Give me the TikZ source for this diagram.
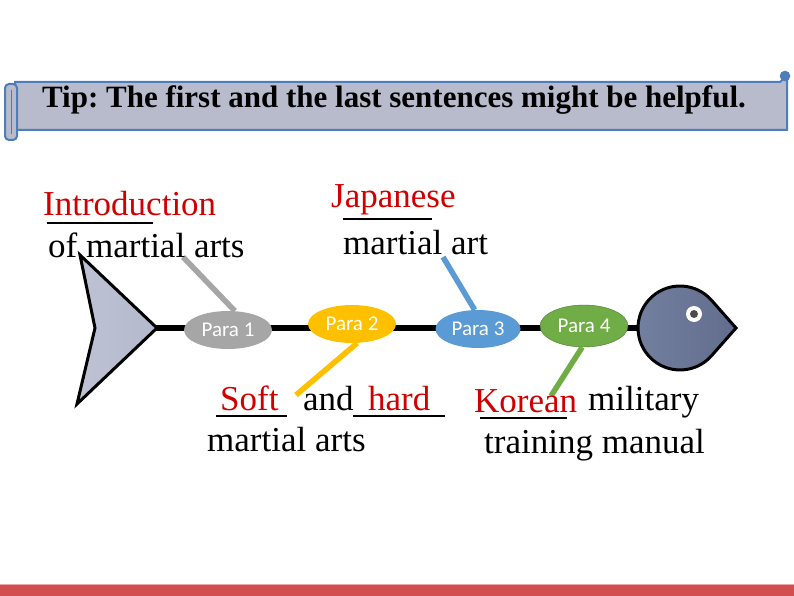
\documentclass[tikz,border=0pt]{standalone}
\usepackage{fontspec}
\setmainfont{Liberation Serif}
\newfontfamily\parafont{Carlito}
\usetikzlibrary{positioning,calc,shapes.geometric}
\frenchspacing

\definecolor{scrollfill}{HTML}{B7BBCB}
\definecolor{scrollline}{HTML}{4F7DBA}
\definecolor{redtext}{HTML}{D00000}
\definecolor{paragray}{HTML}{A6A6A6}
\definecolor{parayellow}{HTML}{FFC000}
\definecolor{parablue}{HTML}{5B9BD5}
\definecolor{paragreen}{HTML}{70AD47}
\definecolor{headleft}{HTML}{7480A0}
\definecolor{headright}{HTML}{626D8D}
\definecolor{tailfill}{HTML}{B3B8CC}
\definecolor{barred}{HTML}{D34F4F}

\tikzset{
  para/.style={ellipse, minimum width=88pt, minimum height=38pt, inner sep=0pt,
    text=white, font=\parafont\fontsize{21}{21}\selectfont},
  bone/.style={line width=5.5pt},
  word/.style={anchor=base west, inner sep=0pt, font=\fontsize{35}{40}\selectfont},
  gap/.style={line width=1.2pt}
}

\begin{document}
\begin{tikzpicture}[x=1pt,y=1pt]
  \useasboundingbox (0,0) rectangle (794,-596);

  % the scroll with the tip
  \draw[scrollline, line width=2pt, fill=scrollfill] (15,-82) -- (780,-82) -- (787,-76) -- (787,-130) -- (15,-130) -- cycle;
  \draw[scrollline, line width=2pt, fill=scrollfill, rounded corners=4pt] (5,-84) rectangle (17,-140);
  \draw[scrollline, line width=1pt] (11,-90) -- (11,-134);
  \draw[scrollline, line width=1.5pt, fill=scrollline] (785,-76) circle (4.5);
  \node[font=\bfseries\fontsize{31}{36}\selectfont, anchor=base, inner sep=0pt] (tip) at (394,-108)
    {Tip: The first and the last sentences might be helpful.};

  % spine, tail and head
  \draw[line width=6pt] (150,-328) -- (645,-328);
  \draw[line width=3pt, line join=miter, left color=tailfill!85, right color=tailfill, draw=black]
    (80,-255) -- (157,-328) -- (77,-404) -- (95,-328) -- cycle;
  \coordinate (hc) at (680,-328);
  \draw[line width=3pt, left color=headleft, right color=headright]
    (736,-328) -- ($(hc)+(41.4:42)$) arc[start angle=41.4, end angle=318.6, radius=42] -- cycle;
  \fill[white] (694,-314) circle (8);
  \fill[gray!60!black] (694,-314) circle (4);

  % bones
  \coordinate (b1) at (183,-257);
  \coordinate (b2) at (296,-395);
  \coordinate (b3) at (443,-257);
  \coordinate (b4) at (551,-396);
  \node[para, fill=paragray] (p1) at (228,-330) {Para 1};
  \node[para, fill=parayellow] (p2) at (352,-324) {Para 2};
  \node[para, fill=parablue, minimum width=85pt] (p3) at (478,-329) {Para 3};
  \node[para, fill=paragreen, draw=paragreen!70!black, minimum height=42pt] (p4) at (584,-326) {Para 4};
  \draw[bone, paragray] (p1.70) -- (b1);
  \draw[bone, parayellow] (p2.285) -- (b2);
  \draw[bone, parablue] (p3.100) -- (b3);
  \draw[bone, paragreen] (p4.265) -- (b4);

  % labels
  \node[word, text=redtext] (intro) at (43,-215) {Introduction};
  \draw[gap] (47,-223) -- (153,-223);
  \node[word] (intro2) at (48,-257) {of martial arts};

  \node[word, text=redtext] (japan) at (331,-207) {Japanese};
  \draw[gap] (343,-219) -- (432,-219);
  \node[word] (japan2) at (343,-254) {martial art};

  \node[word, text=redtext] (soft) at (220,-410) {Soft};
  \draw[gap] (216,-416) -- (287,-416);
  \node[word] (and) at (303,-410) {and};
  \node[word, text=redtext] (hard) at (368,-410) {hard};
  \draw[gap] (353,-416) -- (445,-416);
  \node[word] (soft2) at (207,-451) {martial arts};

  \node[word, text=redtext] (korea) at (474,-412) {Korean};
  \draw[gap] (480,-418) -- (567,-418);
  \node[word] (mil) at (588,-410) {military};
  \node[word] (korea2) at (484,-453) {training manual};

  % bottom bar
  \fill[barred] (0,-584) rectangle (794,-596);
  \draw[barred!50!white, line width=1pt] (0,-584.5) -- (794,-584.5);
\end{tikzpicture}
\end{document}
